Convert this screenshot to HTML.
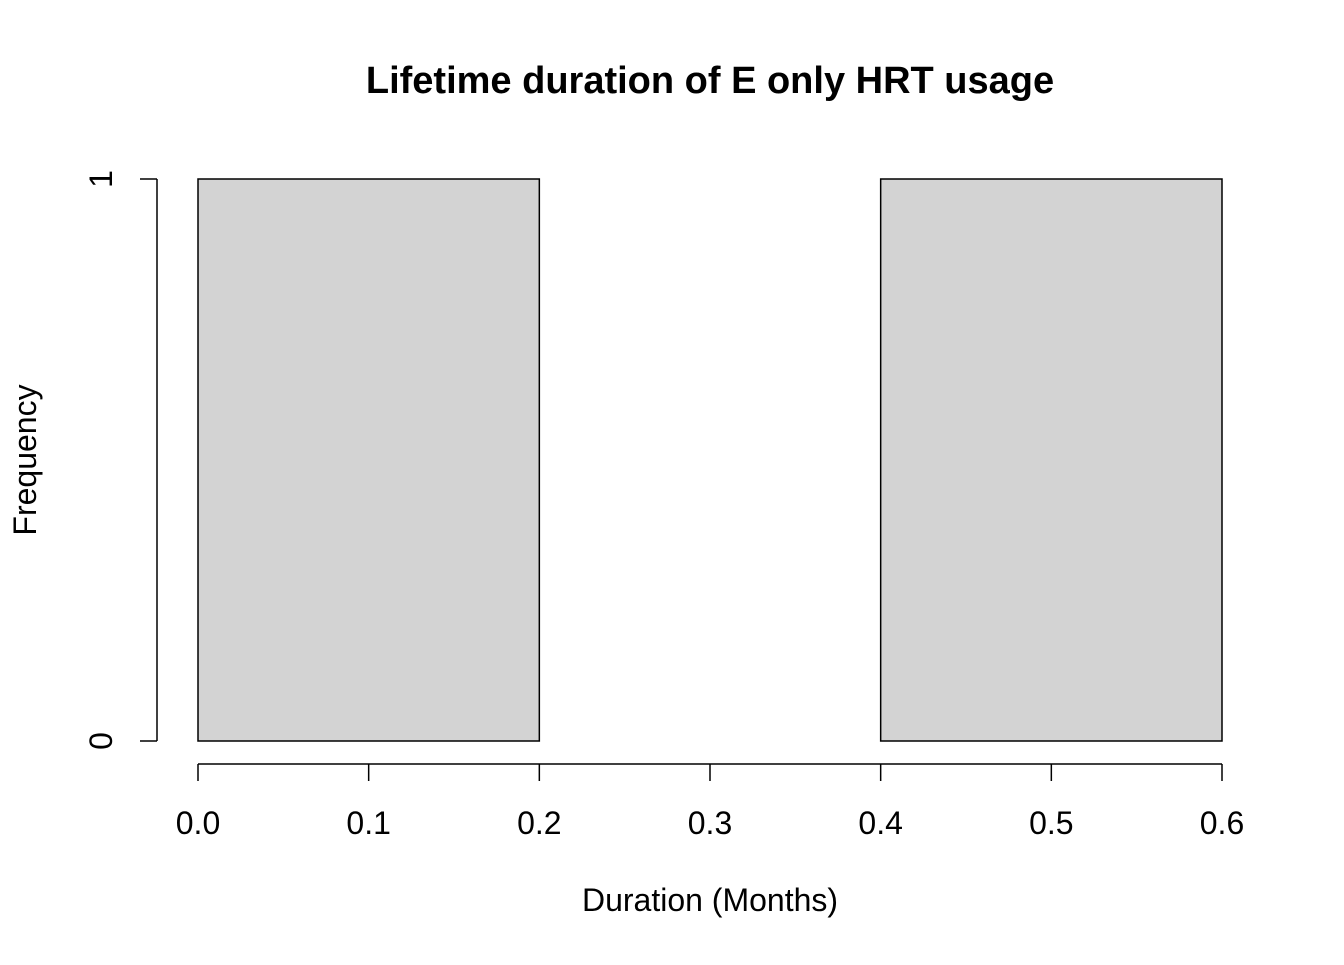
<!DOCTYPE html>
<html><head><meta charset="utf-8">
<style>
html,body{margin:0;padding:0;background:#fff;}
svg text{font-family:"Liberation Sans",Arial,sans-serif;fill:#000;}
</style></head>
<body>
<svg id="chart" width="1344" height="960" viewBox="0 0 1344 960" xmlns="http://www.w3.org/2000/svg">
<rect width="1344" height="960" fill="#fff"/>
<text x="710" y="93" font-size="38" font-weight="bold" text-anchor="middle">Lifetime duration of E only HRT usage</text>
<text x="710" y="911" font-size="32" text-anchor="middle">Duration (Months)</text>
<text x="0" y="0" font-size="32" text-anchor="middle" transform="translate(36,460) rotate(-90)">Frequency</text>
<g id="bars"></g>
<g id="xaxis"></g>
<g id="yaxis"></g>
</svg>
<script>
const binEdges = [0.0, 0.2, 0.4, 0.6];
const counts = [1, 0, 1];
const xTicks = [0.0, 0.1, 0.2, 0.3, 0.4, 0.5, 0.6];
const xTickLabels = ["0.0","0.1","0.2","0.3","0.4","0.5","0.6"];
const yTicks = [0, 1];
const yTickLabels = ["0","1"];

const NS = "http://www.w3.org/2000/svg";
const x = v => 198 + (v - 0) / 0.6 * (1222 - 198);
const y = v => 741 - (v - 0) / 1 * (741 - 179);
function mk(tag, attrs, parent){const e=document.createElementNS(NS,tag);for(const k in attrs)e.setAttribute(k,attrs[k]);parent.appendChild(e);return e;}

const bars = document.getElementById('bars');
counts.forEach((c,i)=>{
  const x0=x(binEdges[i]), x1=x(binEdges[i+1]);
  const r=mk('rect',{x:x0,y:y(c),width:x1-x0,height:Math.max(0,y(0)-y(c)),fill:'#d3d3d3',stroke:'#000','stroke-width':1.5},bars);
  
  
});

const xa = document.getElementById('xaxis');
const xl=mk('line',{x1:x(xTicks[0]),x2:x(xTicks[xTicks.length-1]),y1:764,y2:764,stroke:'#000','stroke-width':1.5},xa);


xTicks.forEach((t,i)=>{
  const tk=mk('line',{x1:x(t),x2:x(t),y1:764,y2:781,stroke:'#000','stroke-width':1.5},xa);
  
  
  const tx=mk('text',{x:x(t),y:834,'font-size':32,'text-anchor':'middle'},xa);
  tx.textContent=xTickLabels[i];
  
  
});

const ya = document.getElementById('yaxis');
const yl=mk('line',{x1:157,x2:157,y1:y(yTicks[0]),y2:y(yTicks[yTicks.length-1]),stroke:'#000','stroke-width':1.5},ya);


yTicks.forEach((t,i)=>{
  const tk=mk('line',{x1:140,x2:157,y1:y(t),y2:y(t),stroke:'#000','stroke-width':1.5},ya);
  
  
  const tx=mk('text',{x:0,y:0,'font-size':32,'text-anchor':'middle',transform:'translate(112,'+y(t)+') rotate(-90)'},ya);
  tx.textContent=yTickLabels[i];
  
  
});
</script>
</body></html>
